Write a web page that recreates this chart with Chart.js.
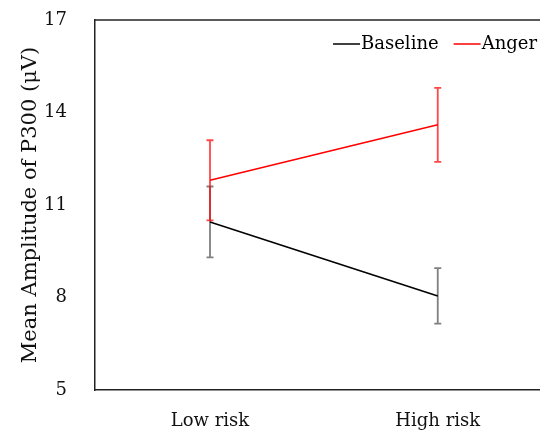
<!DOCTYPE html>
<html>
<head>
<meta charset="utf-8">
<script src="https://cdn.jsdelivr.net/npm/chart.js@4"></script>
<style>
  html, body { margin: 0; padding: 0; background: #fff; }
  #wrap { width: 540px; height: 432px; }
</style>
</head>
<body>
<div id="wrap"><canvas id="myChart" width="540" height="432"></canvas></div>
<script>
const RISK_LABELS = ['Low risk', 'High risk'];
const RISK_POSITIONS = [0, 1];
const BASELINE_MEANS = [10.45, 8.05];
const BASELINE_ERRORS = [1.15, 0.9];
const ANGER_MEANS = [11.8, 13.6];
const ANGER_ERRORS = [1.3, 1.2];
const Y_TITLE = 'Mean Amplitude of P300 (\u03bcV)';
const FONT_FAMILY = '"DejaVu Serif", serif';

function toPoints(means) {
    return means.map((m, i) => ({ x: RISK_POSITIONS[i], y: m }));
}

// error bars are drawn from the scales, under the lines
const errorBars = {
    id: 'errorBars',
    beforeDatasetsDraw(chart) {
        const ctx = chart.ctx;
        const xs = chart.scales.x;
        const ys = chart.scales.y;
        chart.data.datasets.forEach((ds) => {
            ctx.save();
            ctx.strokeStyle = ds.errorColor;
            ctx.lineWidth = 1.8;
            ds.data.forEach((p, i) => {
                const x = xs.getPixelForValue(p.x);
                const top = ys.getPixelForValue(p.y + ds.errors[i]);
                const bottom = ys.getPixelForValue(p.y - ds.errors[i]);
                ctx.beginPath();
                ctx.moveTo(x, top);
                ctx.lineTo(x, bottom);
                ctx.moveTo(x - 3.5, top);
                ctx.lineTo(x + 3.5, top);
                ctx.moveTo(x - 3.5, bottom);
                ctx.lineTo(x + 3.5, bottom);
                ctx.stroke();
            });
            ctx.restore();
        });
    }
};

// top border and line legend inside the plot
const frameAndLegend = {
    id: 'frameAndLegend',
    afterDraw(chart) {
        const ctx = chart.ctx;
        const area = chart.chartArea;
        ctx.save();
        ctx.strokeStyle = '#222';
        ctx.lineWidth = 1.5;
        ctx.beginPath();
        ctx.moveTo(area.left, area.top);
        ctx.lineTo(area.right, area.top);
        ctx.stroke();

        ctx.font = '18px ' + FONT_FAMILY;
        ctx.textBaseline = 'middle';
        ctx.textAlign = 'left';
        const y = 44;
        let right = 537;
        const items = chart.data.datasets.slice().reverse();
        items.forEach((ds) => {
            const w = ctx.measureText(ds.label).width;
            const textX = right - w;
            ctx.fillStyle = '#000';
            ctx.fillText(ds.label, textX, y);
            ctx.strokeStyle = ds.borderColor;
            ctx.lineWidth = 1.5;
            ctx.beginPath();
            ctx.moveTo(textX - 28, y);
            ctx.lineTo(textX - 1, y);
            ctx.stroke();
            right = textX - 28 - 15;
        });
        ctx.restore();
    }
};

const config = {
    type: 'line',
    data: {
        datasets: [
            {
                label: 'Baseline',
                data: toPoints(BASELINE_MEANS),
                errors: BASELINE_ERRORS,
                borderColor: '#000000',
                errorColor: 'rgba(0, 0, 0, 0.5)',
                borderWidth: 1.6,
                pointRadius: 0,
                fill: false,
            },
            {
                label: 'Anger',
                data: toPoints(ANGER_MEANS),
                errors: ANGER_ERRORS,
                borderColor: '#ff0000',
                errorColor: 'rgba(255, 0, 0, 0.72)',
                borderWidth: 1.6,
                pointRadius: 0,
                fill: false,
            },
        ],
    },
    options: {
        responsive: false,
        animation: false,
        layout: { padding: { top: 20, right: 0, left: 0, bottom: 0 } },
        plugins: {
            legend: { display: false },
            tooltip: { enabled: false },
        },
        scales: {
            x: {
                type: 'linear',
                min: -0.505,
                max: 1.449,
                grid: { display: false },
                border: { display: true, color: '#222', width: 1.5 },
                afterBuildTicks: (scale) => {
                    scale.ticks = RISK_POSITIONS.map((v) => ({ value: v }));
                },
                afterFit: (scale) => {
                    scale.height = 42;
                    scale.paddingLeft = 0;
                    scale.paddingRight = 0;
                },
                ticks: {
                    padding: 13,
                    color: '#111',
                    font: { family: FONT_FAMILY, size: 18 },
                    callback: (v) => RISK_LABELS[RISK_POSITIONS.indexOf(v)],
                },
            },
            y: {
                min: 5,
                max: 17,
                grid: { display: false },
                border: { display: true, color: '#222', width: 1.5 },
                afterFit: (scale) => {
                    scale.width = 95;
                    scale.paddingTop = 0;
                    scale.paddingBottom = 0;
                },
                ticks: {
                    stepSize: 3,
                    padding: 20,
                    color: '#111',
                    font: { family: FONT_FAMILY, size: 18 },
                },
                title: {
                    display: true,
                    text: Y_TITLE,
                    color: '#111',
                    padding: { top: 18, bottom: 0 },
                    font: { family: FONT_FAMILY, size: 21 },
                },
            },
        },
    },
    plugins: [errorBars, frameAndLegend],
};

const myChart = new Chart(document.querySelector('#myChart'), config);
</script>
</body>
</html>
